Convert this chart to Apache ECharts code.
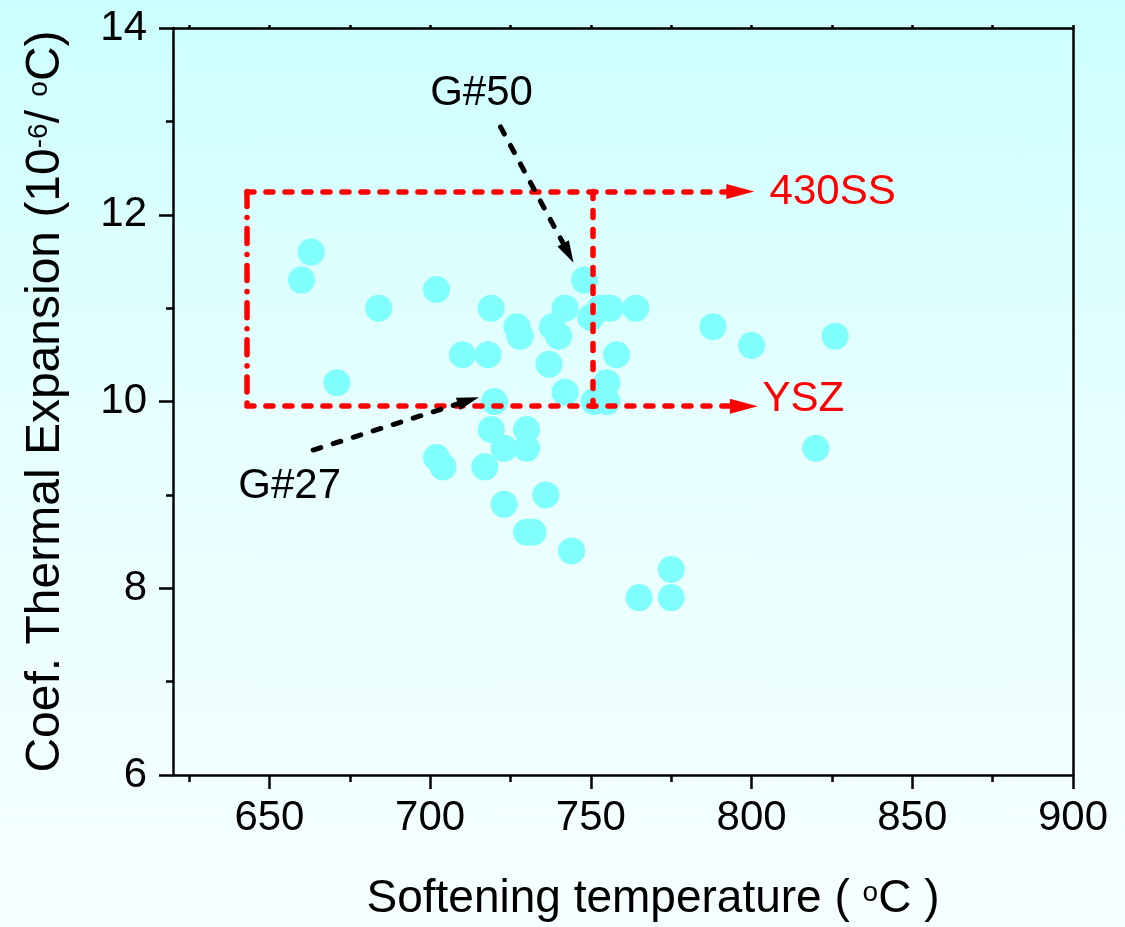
<!DOCTYPE html>
<html>
<head>
<meta charset="utf-8">
<script src="https://cdn.jsdelivr.net/npm/echarts@6/dist/echarts.min.js"></script>
<style>
html,body{margin:0;padding:0;}
#c{width:1125px;height:927px;background:linear-gradient(to bottom,#ccffff 0%,#e6ffff 45%,#f6ffff 100%);}
</style>
</head>
<body>
<div id="c"></div>
<script>
// Data
const softeningTemp = [660,663,684,671,702,710,719,718,727,728,738,740,742,748,750,753,756,764,758,737,742,755,751,755,720,719,730,723,730,702,704,717,723,736,730,732,744,775,765,775,788,800,826,820];
const cte = [11.3,11.6,11.0,10.2,11.2,10.5,11.0,10.5,10.8,10.7,10.8,10.7,11.0,11.3,10.9,11.0,11.0,11.0,10.5,10.4,10.1,10.2,10.0,10.0,10.0,9.7,9.7,9.5,9.5,9.4,9.3,9.3,8.9,9.0,8.6,8.6,8.4,8.2,7.9,7.9,10.8,10.6,10.7,9.5];
const xMajorTicks = [650,700,750,800,850,900];
const xMinorTicks = [625,675,725,775,825,875];
const xAllTicks = [625,650,675,700,725,750,775,800,825,850,875,900];

// Annotation geometry (data coordinates)
const boxTop = 12.25, boxBottom = 9.95, boxLeft = 643, boxMid = 750.5;
const line430SS = [[boxLeft, boxTop], [796.5, boxTop]];
const lineYSZ = [[boxLeft, boxBottom], [797.6, boxBottom]];
const boxLeftEdge = [[boxLeft, boxTop], [boxLeft, boxBottom]];
const boxMidEdge = [[boxMid, boxTop], [boxMid, boxBottom]];
const arrowG50 = [[721.9, 12.94], [743.0, 11.59]];
const arrowG27 = [[663.6, 9.48], [711.9, 10.01]];
const textLabels = [
  {name:'G#50', value:[716.0, 13.30], color:'#000000', pos:'inside'},
  {name:'G#27', value:[656.3, 9.09], color:'#000000', pos:'inside'},
  {name:'430SS', value:[805.6, 12.24], color:'#ff0000', pos:'right'},
  {name:'YSZ', value:[803.4, 10.02], color:'#ff0000', pos:'right'}
];

const FONT = '"Liberation Sans", Arial, sans-serif';
const chart = echarts.init(document.getElementById('c'), null, {renderer:'canvas'});
const pts = softeningTemp.map((t,i)=>[t, cte[i]]);
const seg = a => [{coord:a[0]},{coord:a[1]}];
const axisLine = {show:true, lineStyle:{color:'#000', width:2.5}};

chart.setOption({
  animation:false,
  backgroundColor:'transparent',
  grid:{left:173, top:28, right:52, bottom:151, containLabel:false},
  xAxis:[
    {type:'value', position:'bottom', min:620, max:900,
     axisLine:axisLine,
     axisTick:{show:true, inside:false, length:14, lineStyle:{color:'#000', width:2.5}, customValues:xMajorTicks},
     axisLabel:{show:true, fontSize:42, fontFamily:FONT, color:'#000', margin:22, customValues:xMajorTicks},
     splitLine:{show:false},
     name:'{a|Softening temperature ( }{s|o}{a|C )}', nameLocation:'middle', nameGap:104,
     nameTextStyle:{fontSize:46, fontFamily:FONT, color:'#000', padding:[0,0,0,60],
       rich:{
         a:{fontSize:46, fontFamily:FONT, color:'#000', lineHeight:40},
         s:{fontSize:28, fontFamily:FONT, color:'#000', verticalAlign:'top', lineHeight:10}}}
    },
    {type:'value', position:'bottom', min:620, max:900,
     axisLine:{show:false},
     axisTick:{show:true, inside:false, length:7, lineStyle:{color:'#000', width:2.5}, customValues:xMinorTicks},
     axisLabel:{show:false}, splitLine:{show:false}
    },
    {type:'value', position:'top', min:620, max:900,
     axisLine:axisLine,
     axisTick:{show:true, inside:false, length:3, lineStyle:{color:'#000', width:2.5}, customValues:xAllTicks},
     axisLabel:{show:false}, splitLine:{show:false}
    }
  ],
  yAxis:[
    {type:'value', position:'left', min:6, max:14, interval:2,
     axisLine:axisLine,
     axisTick:{show:true, inside:false, length:14, lineStyle:{color:'#000', width:2.5}},
     minorTick:{show:true, splitNumber:2, length:7, lineStyle:{color:'#000', width:2.5}},
     axisLabel:{fontSize:42, fontFamily:FONT, color:'#000', margin:26},
     splitLine:{show:false}, minorSplitLine:{show:false},
     name:'{a|Coef. Thermal Expansion (10}{s|-6}{a|/ }{s|o}{a|C)}', nameLocation:'middle', nameGap:106, nameRotate:90,
     nameTextStyle:{fontSize:48, fontFamily:FONT, color:'#000',
       rich:{
         a:{fontSize:48, fontFamily:FONT, color:'#000', lineHeight:42},
         s:{fontSize:28, fontFamily:FONT, color:'#000', verticalAlign:'top', lineHeight:10}
       }}
    },
    {type:'value', position:'right', min:6, max:14, interval:2,
     axisLine:axisLine, axisTick:{show:false}, axisLabel:{show:false}, splitLine:{show:false}
    }
  ],
  series:[
    {type:'scatter', xAxisIndex:0, yAxisIndex:0, data:pts, symbol:'circle', symbolSize:27,
     itemStyle:{color:'#80ffff', opacity:1}, silent:true, z:2},
    {type:'scatter', xAxisIndex:0, yAxisIndex:0, data:[], silent:true, z:3,
     markLine:{silent:true, animation:false, symbol:['none','none'], label:{show:false},
       lineStyle:{color:'#ff0000', width:5.5, type:[7,12], cap:'round', opacity:1},
       emphasis:{disabled:true},
       data:[seg(boxMidEdge)]}
    },
    {type:'scatter', xAxisIndex:0, yAxisIndex:0, data:[], silent:true, z:3,
     markLine:{silent:true, animation:false, symbol:['none','none'], label:{show:false},
       lineStyle:{color:'#ff0000', width:5.5, type:[15,11,0.1,11], cap:'round', opacity:1},
       emphasis:{disabled:true},
       data:[seg(boxLeftEdge)]}
    },
    {type:'scatter', xAxisIndex:0, yAxisIndex:0, data:[], silent:true, z:3,
     markLine:{silent:true, animation:false, symbol:['none','triangle'], symbolSize:[15,28], label:{show:false},
       itemStyle:{color:'#ff0000'},
       lineStyle:{color:'#ff0000', width:5.5, type:[7,12], cap:'round', opacity:1},
       emphasis:{disabled:true},
       data:[seg(line430SS), seg(lineYSZ)]}
    },
    {type:'scatter', xAxisIndex:0, yAxisIndex:0, data:[], silent:true, z:4,
     markLine:{silent:true, animation:false, symbol:['none','triangle'], symbolSize:[13,22], label:{show:false},
       itemStyle:{color:'#000'},
       lineStyle:{color:'#000', width:5, type:[8,13], cap:'round', opacity:1},
       emphasis:{disabled:true},
       data:[seg(arrowG50), seg(arrowG27)]}
    },
    {type:'scatter', xAxisIndex:0, yAxisIndex:0, symbolSize:0, silent:true, z:5,
     data:textLabels.map(d=>({name:d.name, value:d.value,
       label:{show:true, formatter:'{b}', position:d.pos, distance:0, fontSize:42, fontFamily:FONT,
              color:d.color, textBorderWidth:0, textBorderColor:'transparent', opacity:1}}))
    }
  ]
});
</script>
</body>
</html>
